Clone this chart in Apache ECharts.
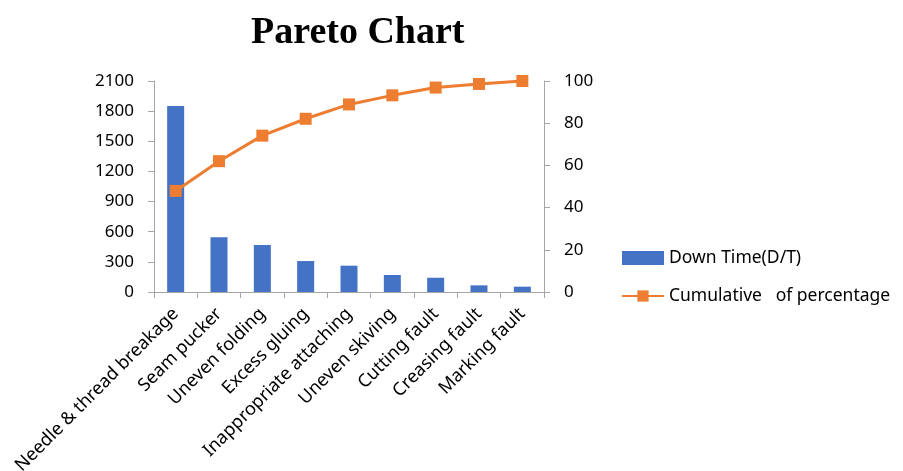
<!DOCTYPE html>
<html><head><meta charset="utf-8">
<script src="https://cdn.jsdelivr.net/npm/echarts@6/dist/echarts.min.js"></script>
<style>html,body{margin:0;padding:0;background:#fff}#c{width:903px;height:471px}</style>
</head><body><div id="c"></div>
<script>
const categories = ["Needle & thread breakage","Seam pucker","Uneven folding","Excess gluing","Inappropriate attaching","Uneven skiving","Cutting fault","Creasing fault","Marking fault"];
const downTime = [1850, 545, 468, 308, 262, 169, 142, 66, 53];
const cumulative = [47.9, 62.0, 74.1, 82.1, 88.9, 93.2, 96.9, 98.6, 100];
const leftTicks = {min: 0, max: 2100, interval: 300};
const rightTicks = {min: 0, max: 100, interval: 20};

const chart = echarts.init(document.getElementById('c'), null, {renderer: 'canvas'});
const font = 'Noto Sans';
const axisGrey = '#A6A6A6';
chart.setOption({
  animation: false,
  title: {
    text: 'Pareto Chart', left: 251, top: 14, padding: 0,
    textStyle: {fontFamily: 'Liberation Serif', fontWeight: 'bold', fontSize: 38, color: '#000'}
  },
  legend: {
    orient: 'vertical', left: 621, top: 249, padding: 0, itemGap: 20, itemWidth: 42, itemHeight: 14,
    textStyle: {fontFamily: font, fontSize: 17.5, color: '#000'},
    data: [
      {name: 'Down Time(D/T)', icon: 'rect'},
      {name: 'Cumulative   of percentage'}
    ]
  },
  grid: {left: 154, right: 359, top: 81, bottom: 179, containLabel: false, outerBoundsMode: 'none'},
  xAxis: {
    type: 'category', data: categories,
    axisLine: {lineStyle: {color: axisGrey}},
    axisTick: {show: true, alignWithLabel: false, length: 6, lineStyle: {color: axisGrey}},
    axisLabel: {rotate: 45, interval: 0, fontFamily: font, fontSize: 18, color: '#000', margin: 19}
  },
  yAxis: [
    {
      type: 'value', min: leftTicks.min, max: leftTicks.max, interval: leftTicks.interval,
      axisLine: {show: true, lineStyle: {color: axisGrey}},
      axisTick: {show: true, length: 6, lineStyle: {color: axisGrey}},
      splitLine: {show: false},
      axisLabel: {fontFamily: font, fontSize: 17, color: '#000', margin: 20, formatter: v => String(v)}
    },
    {
      type: 'value', min: rightTicks.min, max: rightTicks.max, interval: rightTicks.interval,
      position: 'right',
      axisLine: {show: true, lineStyle: {color: axisGrey}},
      axisTick: {show: true, length: 6, lineStyle: {color: axisGrey}},
      splitLine: {show: false},
      axisLabel: {fontFamily: font, fontSize: 17, color: '#000', margin: 20}
    }
  ],
  series: [
    {
      name: 'Down Time(D/T)', type: 'bar', data: downTime, barWidth: 17,
      itemStyle: {color: '#4472C4'}
    },
    {
      name: 'Cumulative   of percentage', type: 'line', yAxisIndex: 1, data: cumulative,
      symbol: 'rect', symbolSize: 12,
      lineStyle: {color: '#ED7D31', width: 3},
      itemStyle: {color: '#ED7D31'}
    }
  ]
});
</script></body></html>
